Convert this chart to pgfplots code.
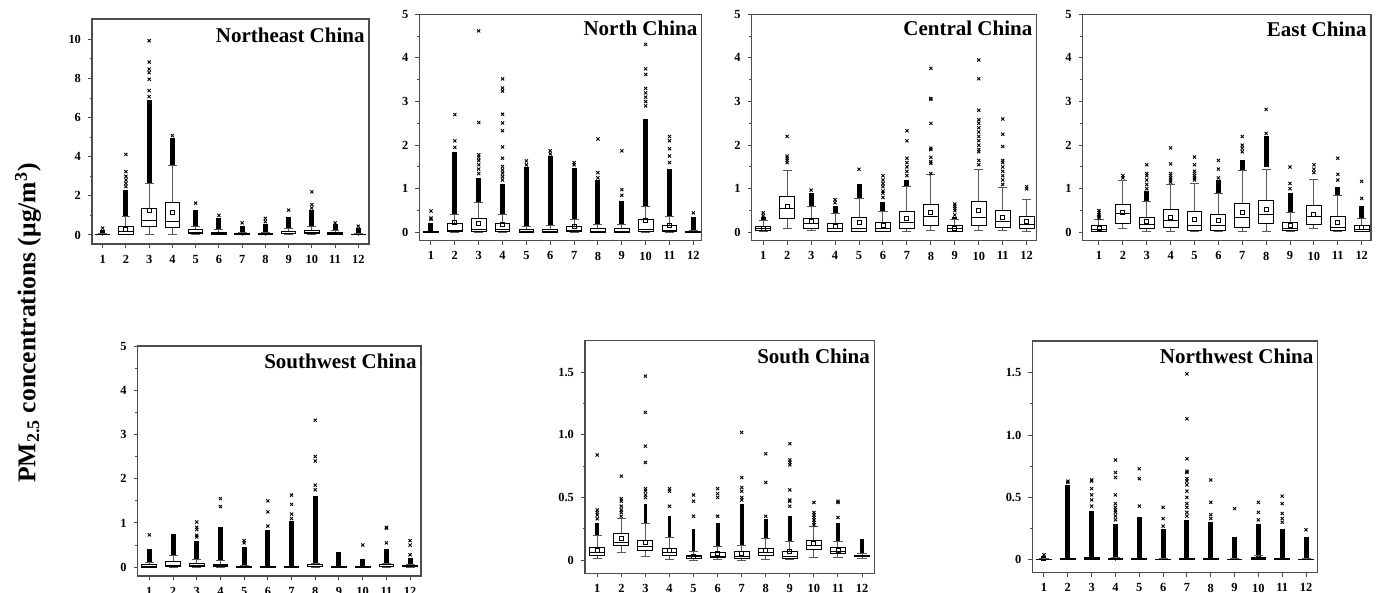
\documentclass[border=0pt]{standalone}
\usepackage{fontspec}
\setmainfont{Liberation Serif}
\usepackage{pgfplots}
\pgfplotsset{compat=1.18}
\usepgfplotslibrary{statistics}

\pgfplotsset{
  panel/.style={
    scale only axis, anchor=south west,
    axis line style={black!70, line width=0.6pt},
    tick style={black!70, line width=0.5pt},
    tick align=outside, xtick pos=left, ytick pos=left,
    xtick={1,...,12}, minor y tick num=1,
    major tick length=2pt, minor tick length=1.2pt,
    tick label style={font=\fontsize{6.2}{7}\selectfont\bfseries},
    /pgf/number format/assume math mode=true,
    boxplot/draw direction=y,
    boxplot/box extend=0.62,
    boxplot/whisker extend=0.38,
    boxplot/every whisker/.style={black!65, line width=0.5pt},
    boxplot/every median/.style={black, line width=0.5pt},
    clip=false,
  },
  boxst/.style={black, line width=0.5pt, fill=white, solid, forget plot},
  densest/.style={black, line width=2.5pt, forget plot, mark=none},
  outst/.style={only marks, mark=x, mark size=1.1pt, black, mark options={line width=0.45pt}, forget plot},
  meanst/.style={only marks, mark=square, mark size=1.0pt, mark options={fill=white, draw=black, line width=0.45pt}, forget plot},
}
\tikzset{ttl/.style={font=\fontsize{10.5}{12}\selectfont\bfseries, inner sep=0pt, anchor=base east, xshift=-2pt}}
\newcommand\bp[6]{\addplot[boxst, boxplot prepared={draw direction=y, draw position=#1, lower whisker=#2, lower quartile=#3, median=#4, upper quartile=#5, upper whisker=#6}] coordinates {};}
\newcommand\dc[3]{\addplot[densest] coordinates {(#1,#2) (#1,#3)};}

\begin{document}
\begin{tikzpicture}
\path[use as bounding box] (0,0) rectangle (692pt,296.5pt);
\node[rotate=90, font=\fontsize{12.8}{14}\selectfont\bfseries] at (14pt,135pt) {PM\textsubscript{2.5} concentrations (μg/m\textsuperscript{3})};

% ---------------- Northeast China
\begin{axis}[panel, at={(46pt,174.5pt)}, width=138.5pt, height=112.5pt,
  xmin=0.54, xmax=12.46, ymin=-0.46, ymax=11.04, ytick={0,2,...,10}]
\dc{1}{0.07}{0.28}\dc{2}{0.94}{2.3}\dc{3}{2.61}{6.9}\dc{4}{3.53}{4.95}
\dc{5}{0.45}{1.3}\dc{6}{0.28}{0.85}\dc{7}{0.14}{0.45}\dc{8}{0.13}{0.55}
\dc{9}{0.35}{0.92}\dc{10}{0.42}{1.3}\dc{11}{0.25}{0.55}\dc{12}{0.1}{0.35}
\bp{1}{0}{0.005}{0.015}{0.03}{0.07}
\bp{2}{0.01}{0.05}{0.17}{0.42}{0.94}
\bp{3}{0.05}{0.42}{0.72}{1.36}{2.61}
\bp{4}{0.05}{0.37}{0.68}{1.65}{3.53}
\bp{5}{0.03}{0.07}{0.15}{0.27}{0.45}
\bp{6}{0.01}{0.04}{0.08}{0.15}{0.28}
\bp{7}{0}{0.02}{0.04}{0.08}{0.14}
\bp{8}{0}{0.01}{0.03}{0.07}{0.13}
\bp{9}{0.01}{0.06}{0.1}{0.18}{0.35}
\bp{10}{0.02}{0.08}{0.14}{0.22}{0.42}
\bp{11}{0.01}{0.05}{0.09}{0.14}{0.25}
\bp{12}{0}{0.01}{0.02}{0.05}{0.1}
\addplot[outst] coordinates {(1,0.35) (2,2.47) (2,2.64) (2,2.81) (2,3.0) (2,3.24) (2,4.12)
 (3,7.07) (3,7.38) (3,7.96) (3,8.3) (3,8.48) (3,8.84) (3,9.93) (4,5.08) (5,1.63) (6,1.0)
 (7,0.62) (8,0.68) (8,0.85) (9,1.27) (10,1.38) (10,1.55) (10,2.2) (11,0.62) (12,0.45)};
\addplot[meanst] coordinates {(2,0.29) (3,1.23) (4,1.14)};
\node[ttl, yshift=-12pt] at (rel axis cs:1,1) {Northeast China};
\end{axis}

% ---------------- North China
\begin{axis}[panel, at={(209.65pt,176.15pt)}, width=141.2pt, height=113.2pt,
  xmin=0.51, xmax=12.35, ymin=-0.19, ymax=5, ytick={0,...,5}]
\dc{1}{0.02}{0.22}\dc{2}{0.42}{1.85}\dc{3}{0.68}{1.25}\dc{4}{0.42}{1.1}
\dc{5}{0.14}{1.5}\dc{6}{0.15}{1.75}\dc{7}{0.29}{1.48}\dc{8}{0.18}{1.2}
\dc{9}{0.18}{0.72}\dc{10}{0.6}{2.6}\dc{11}{0.37}{1.45}\dc{12}{0.04}{0.36}
\bp{1}{0}{0}{0.005}{0.01}{0.02}
\bp{2}{0}{0.01}{0.05}{0.2}{0.42}
\bp{3}{0}{0.02}{0.07}{0.31}{0.68}
\bp{4}{0}{0.01}{0.06}{0.2}{0.42}
\bp{5}{0}{0}{0.02}{0.07}{0.14}
\bp{6}{0}{0}{0.02}{0.07}{0.15}
\bp{7}{0}{0.01}{0.04}{0.13}{0.29}
\bp{8}{0}{0}{0.02}{0.08}{0.18}
\bp{9}{0}{0}{0.02}{0.08}{0.18}
\bp{10}{0}{0.02}{0.06}{0.29}{0.6}
\bp{11}{0}{0.01}{0.05}{0.16}{0.37}
\bp{12}{0}{0}{0.01}{0.02}{0.04}
\addplot[outst] coordinates {(1,0.3) (1,0.33) (1,0.49) (2,1.95) (2,2.1) (2,2.7)
 (3,1.35) (3,1.45) (3,1.55) (3,1.65) (3,1.72) (3,1.78) (3,2.52) (3,4.62)
 (4,1.2) (4,1.28) (4,1.36) (4,1.43) (4,1.51) (4,1.7) (4,1.96) (4,2.33) (4,2.51) (4,2.71) (4,3.24) (4,3.31) (4,3.52)
 (5,1.55) (5,1.64) (6,1.8) (6,1.87) (7,1.55) (7,1.6) (8,1.25) (8,1.37) (8,2.14)
 (9,0.85) (9,0.98) (9,1.87) (10,2.9) (10,3.0) (10,3.1) (10,3.2) (10,3.3) (10,3.62) (10,3.75) (10,4.31)
 (11,1.6) (11,1.75) (11,1.92) (11,2.1) (11,2.2) (12,0.45)};
\addplot[meanst] coordinates {(2,0.23) (3,0.21) (4,0.18) (7,0.13) (10,0.27) (11,0.17)};
\node[ttl, yshift=-10.8pt] at (rel axis cs:1,1) {North China};
\end{axis}

% ---------------- Central China
\begin{axis}[panel, at={(375.85pt,176.15pt)}, width=142.5pt, height=113.2pt,
  xmin=0.52, xmax=12.42, ymin=-0.19, ymax=5, ytick={0,...,5}]
\dc{1}{0.28}{0.35}\dc{3}{0.6}{0.9}\dc{4}{0.43}{0.6}\dc{5}{0.77}{1.1}
\dc{6}{0.49}{0.7}\dc{7}{1.05}{1.2}\dc{9}{0.3}{0.35}
\bp{1}{0.02}{0.05}{0.09}{0.14}{0.28}
\bp{2}{0.08}{0.32}{0.54}{0.82}{1.43}
\bp{3}{0.04}{0.1}{0.2}{0.31}{0.6}
\bp{4}{0.01}{0.03}{0.1}{0.2}{0.43}
\bp{5}{0.01}{0.03}{0.1}{0.34}{0.77}
\bp{6}{0.01}{0.03}{0.1}{0.23}{0.49}
\bp{7}{0.01}{0.08}{0.22}{0.47}{1.05}
\bp{8}{0.05}{0.15}{0.36}{0.63}{1.33}
\bp{9}{0.01}{0.03}{0.08}{0.15}{0.3}
\bp{10}{0.05}{0.15}{0.35}{0.7}{1.45}
\bp{11}{0.05}{0.12}{0.26}{0.5}{1.02}
\bp{12}{0.02}{0.08}{0.18}{0.36}{0.75}
\addplot[outst] coordinates {(1,0.38) (1,0.45) (2,1.6) (2,1.65) (2,1.7) (2,1.75) (2,2.2) (3,0.97)
 (4,0.68) (4,0.75) (5,1.45) (6,0.8) (6,0.9) (6,0.95) (6,1.05) (6,1.12) (6,1.2) (6,1.3)
 (7,1.3) (7,1.4) (7,1.5) (7,1.6) (7,1.7) (7,2.1) (7,2.33)
 (8,1.35) (8,1.58) (8,1.62) (8,1.72) (8,1.9) (8,1.93) (8,2.5) (8,3.05) (8,3.07) (8,3.76)
 (9,0.4) (9,0.5) (9,0.55) (9,0.6) (9,0.65)
 (10,1.55) (10,1.65) (10,1.85) (10,1.9) (10,2.0) (10,2.1) (10,2.2) (10,2.3) (10,2.4) (10,2.5) (10,2.58) (10,2.8) (10,3.52) (10,3.95)
 (11,1.1) (11,1.2) (11,1.3) (11,1.4) (11,1.5) (11,1.6) (11,1.65) (11,1.97) (11,2.25) (11,2.6)
 (12,1.0) (12,1.05)};
\addplot[meanst] coordinates {(1,0.09) (2,0.59) (3,0.24) (4,0.14) (5,0.22) (6,0.17) (7,0.32) (8,0.46) (9,0.1) (10,0.5) (11,0.35) (12,0.24)};
\node[ttl, yshift=-10.8pt] at (rel axis cs:1,1) {Central China};
\end{axis}

% ---------------- East China
\begin{axis}[panel, at={(541.35pt,176.15pt)}, width=144.15pt, height=113.2pt,
  xmin=0.32, xmax=12.39, ymin=-0.19, ymax=5, ytick={0,...,5}]
\dc{3}{0.7}{0.95}\dc{6}{0.9}{1.2}\dc{7}{1.42}{1.65}\dc{8}{1.5}{2.2}
\dc{9}{0.45}{0.9}\dc{11}{0.84}{1.05}\dc{12}{0.33}{0.6}
\bp{1}{0.01}{0.03}{0.07}{0.15}{0.3}
\bp{2}{0.08}{0.2}{0.43}{0.63}{1.2}
\bp{3}{0.03}{0.08}{0.17}{0.34}{0.7}
\bp{4}{0.02}{0.12}{0.28}{0.53}{1.1}
\bp{5}{0.01}{0.05}{0.15}{0.49}{1.13}
\bp{6}{0.01}{0.05}{0.15}{0.41}{0.9}
\bp{7}{0.01}{0.12}{0.35}{0.66}{1.42}
\bp{8}{0.01}{0.2}{0.4}{0.72}{1.45}
\bp{9}{0.01}{0.05}{0.1}{0.23}{0.45}
\bp{10}{0.08}{0.18}{0.36}{0.62}{1.22}
\bp{11}{0.03}{0.04}{0.12}{0.37}{0.84}
\bp{12}{0.01}{0.03}{0.06}{0.16}{0.33}
\addplot[outst] coordinates {(1,0.33) (1,0.36) (1,0.4) (1,0.45) (1,0.5) (2,1.25) (2,1.3)
 (3,1.0) (3,1.1) (3,1.2) (3,1.3) (3,1.35) (3,1.55)
 (4,1.15) (4,1.2) (4,1.25) (4,1.3) (4,1.35) (4,1.57) (4,1.94)
 (5,1.2) (5,1.25) (5,1.3) (5,1.35) (5,1.4) (5,1.55) (5,1.73)
 (6,1.25) (6,1.45) (6,1.65) (7,1.85) (7,1.93) (7,2.0) (7,2.2) (8,2.27) (8,2.82)
 (9,1.0) (9,1.12) (9,1.5) (10,1.37) (10,1.45) (10,1.55) (11,1.2) (11,1.33) (11,1.7) (12,0.78) (12,1.17)};
\addplot[meanst] coordinates {(1,0.1) (2,0.45) (3,0.25) (4,0.35) (5,0.3) (6,0.28) (7,0.45) (8,0.52) (9,0.17) (10,0.42) (11,0.23) (12,0.12)};
\node[ttl, yshift=-11.2pt] at (rel axis cs:1,1) {East China};
\end{axis}

% ---------------- Southwest China
\begin{axis}[panel, at={(68.85pt,8.5pt)}, width=141.65pt, height=115pt,
  xmin=0.51, xmax=12.46, ymin=-0.2, ymax=5, ytick={0,...,5}]
\dc{1}{0.1}{0.4}\dc{2}{0.26}{0.75}\dc{3}{0.18}{0.6}\dc{4}{0.15}{0.9}
\dc{5}{0.03}{0.45}\dc{6}{0.02}{0.85}\dc{7}{0.02}{1.05}\dc{8}{0.08}{1.6}
\dc{9}{0.02}{0.35}\dc{10}{0.02}{0.18}\dc{11}{0.08}{0.4}\dc{12}{0.06}{0.2}
\bp{1}{0}{0}{0.01}{0.05}{0.1}
\bp{2}{0}{0.01}{0.03}{0.12}{0.26}
\bp{3}{0}{0.01}{0.03}{0.08}{0.18}
\bp{4}{0}{0.01}{0.03}{0.07}{0.15}
\bp{5}{0}{0}{0.005}{0.02}{0.03}
\bp{6}{0}{0}{0.003}{0.01}{0.02}
\bp{7}{0}{0}{0.003}{0.01}{0.02}
\bp{8}{0}{0.005}{0.015}{0.05}{0.08}
\bp{9}{0}{0}{0.003}{0.01}{0.02}
\bp{10}{0}{0}{0.003}{0.01}{0.02}
\bp{11}{0}{0.005}{0.02}{0.05}{0.08}
\bp{12}{0}{0.005}{0.02}{0.04}{0.06}
\addplot[outst] coordinates {(1,0.73) (3,0.68) (3,0.72) (3,0.85) (3,0.9) (3,1.02) (4,1.37) (4,1.55)
 (5,0.55) (5,0.6) (6,0.93) (6,1.25) (6,1.5) (7,1.1) (7,1.2) (7,1.42) (7,1.63)
 (8,1.75) (8,1.85) (8,2.4) (8,2.5) (8,3.32) (10,0.5) (11,0.55) (11,0.88) (11,0.9) (12,0.28) (12,0.5) (12,0.6)};
\node[ttl, yshift=-11.2pt] at (rel axis cs:1,1) {Southwest China};
\end{axis}

% ---------------- South China
\begin{axis}[panel, at={(292.5pt,9.85pt)}, width=144.65pt, height=116.3pt,
  xmin=0.49, xmax=12.51, ymin=-0.106, ymax=1.753, ytick={0,0.5,1,1.5}, yticklabels={0,0.5,1.0,1.5},
  densest/.style={black, line width=1.9pt, forget plot, mark=none}]
\dc{1}{0.2}{0.3}\dc{3}{0.29}{0.45}\dc{4}{0.18}{0.35}\dc{5}{0.07}{0.25}
\dc{6}{0.11}{0.3}\dc{7}{0.12}{0.45}\dc{8}{0.17}{0.33}\dc{9}{0.15}{0.35}
\dc{11}{0.15}{0.3}\dc{12}{0.05}{0.17}
\bp{1}{0.013}{0.04}{0.06}{0.1}{0.195}
\bp{2}{0.06}{0.12}{0.14}{0.21}{0.33}
\bp{3}{0.027}{0.075}{0.105}{0.16}{0.29}
\bp{4}{0.005}{0.033}{0.06}{0.095}{0.18}
\bp{5}{0}{0.015}{0.025}{0.04}{0.07}
\bp{6}{0.005}{0.017}{0.03}{0.06}{0.11}
\bp{7}{0}{0.015}{0.03}{0.065}{0.12}
\bp{8}{0.005}{0.035}{0.06}{0.095}{0.17}
\bp{9}{0.005}{0.01}{0.03}{0.07}{0.15}
\bp{10}{0.02}{0.085}{0.12}{0.16}{0.27}
\bp{11}{0.02}{0.05}{0.07}{0.1}{0.15}
\bp{12}{0.01}{0.025}{0.03}{0.035}{0.05}
\addplot[outst] coordinates {(1,0.33) (1,0.36) (1,0.38) (1,0.4) (1,0.84)
 (2,0.35) (2,0.38) (2,0.4) (2,0.43) (2,0.47) (2,0.49) (2,0.67)
 (3,0.5) (3,0.52) (3,0.55) (3,0.57) (3,0.78) (3,0.91) (3,1.18) (3,1.47)
 (4,0.43) (4,0.55) (4,0.57) (5,0.35) (5,0.47) (5,0.52) (6,0.35) (6,0.5) (6,0.53) (6,0.57)
 (7,0.48) (7,0.5) (7,0.55) (7,0.58) (7,0.66) (7,1.02) (8,0.35) (8,0.62) (8,0.85)
 (9,0.43) (9,0.47) (9,0.48) (9,0.56) (9,0.76) (9,0.78) (9,0.8) (9,0.93)
 (10,0.28) (10,0.3) (10,0.32) (10,0.34) (10,0.36) (10,0.38) (10,0.46) (11,0.34) (11,0.46) (11,0.47)};
\addplot[meanst] coordinates {(1,0.08) (2,0.17) (3,0.14) (4,0.075) (5,0.03) (6,0.05) (7,0.05) (8,0.075) (9,0.065) (10,0.13) (11,0.08)};
\node[ttl, yshift=-11.6pt] at (rel axis cs:1,1) {South China};
\end{axis}

% ---------------- Northwest China
\begin{axis}[panel, at={(516.15pt,10.15pt)}, width=142.7pt, height=115.85pt,
  xmin=0.51, xmax=12.49, ymin=-0.104, ymax=1.754, ytick={0,0.5,1,1.5}, yticklabels={0,0.5,1.0,1.5}]
\dc{1}{-0.01}{0.03}\dc{2}{0.01}{0.6}\dc{3}{0.02}{0.39}\dc{4}{0.02}{0.29}
\dc{5}{0.01}{0.34}\dc{6}{0.01}{0.25}\dc{7}{0.01}{0.32}\dc{8}{0.01}{0.3}
\dc{9}{0.01}{0.18}\dc{10}{0.02}{0.29}\dc{11}{0.01}{0.25}\dc{12}{0.01}{0.18}
\bp{1}{0}{0}{0.002}{0.005}{0.01}
\bp{2}{0}{0}{0.002}{0.006}{0.012}
\bp{3}{0}{0.002}{0.006}{0.015}{0.02}
\bp{4}{0}{0.001}{0.004}{0.01}{0.02}
\bp{5}{0}{0}{0.002}{0.006}{0.012}
\bp{6}{0}{0}{0.002}{0.005}{0.01}
\bp{7}{0}{0}{0.002}{0.006}{0.012}
\bp{8}{0}{0}{0.002}{0.006}{0.012}
\bp{9}{0}{0}{0.002}{0.005}{0.01}
\bp{10}{0}{0.002}{0.008}{0.02}{0.03}
\bp{11}{0}{0}{0.002}{0.006}{0.012}
\bp{12}{0}{0}{0.002}{0.005}{0.01}
\addplot[outst] coordinates {(1,0.04) (2,0.62) (2,0.63)
 (3,0.43) (3,0.48) (3,0.52) (3,0.57) (3,0.63) (3,0.64)
 (4,0.32) (4,0.35) (4,0.38) (4,0.4) (4,0.42) (4,0.45) (4,0.52) (4,0.66) (4,0.7) (4,0.8)
 (5,0.43) (5,0.65) (5,0.73) (6,0.27) (6,0.33) (6,0.42)
 (7,0.35) (7,0.38) (7,0.42) (7,0.45) (7,0.5) (7,0.55) (7,0.6) (7,0.63) (7,0.65) (7,0.7) (7,0.71) (7,0.81) (7,1.13) (7,1.49)
 (8,0.33) (8,0.36) (8,0.46) (8,0.64) (9,0.41) (10,0.32) (10,0.38) (10,0.46)
 (11,0.3) (11,0.33) (11,0.37) (11,0.45) (11,0.51) (12,0.24)};
\node[ttl, yshift=-11.2pt] at (rel axis cs:1,1) {Northwest China};
\end{axis}
\end{tikzpicture}
\end{document}
